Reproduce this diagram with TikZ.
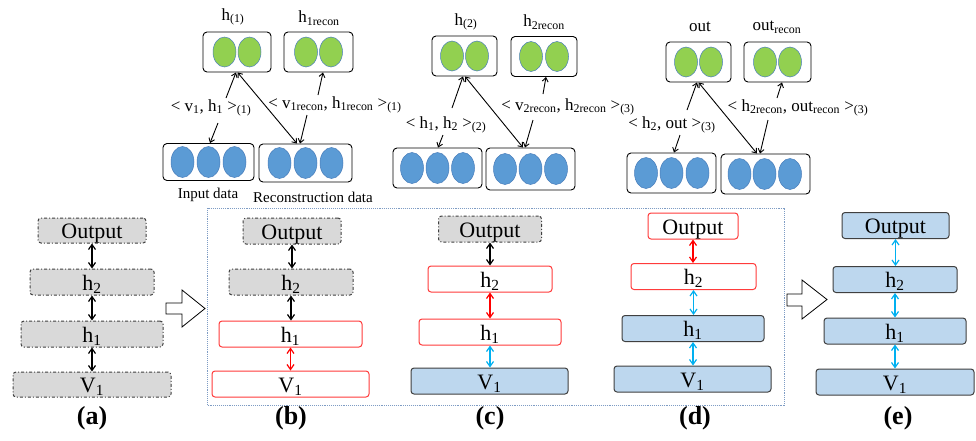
\documentclass[tikz,border=0pt]{standalone}
\usepackage{fontspec}
\setmainfont{LiberationSerif}[Extension=.ttf, UprightFont=*-Regular, BoldFont=*-Bold, ItalicFont=*-Italic, BoldItalicFont=*-BoldItalic]
\usetikzlibrary{arrows.meta,shapes.geometric}
\definecolor{grayfill}{HTML}{D9D9D9}
\definecolor{bluefill}{HTML}{BDD7EE}
\definecolor{greenfill}{HTML}{92D050}
\definecolor{bluedot}{HTML}{5B9BD5}
\definecolor{ellborder}{HTML}{4A7EBB}
\definecolor{cyanarrow}{HTML}{00B0F0}
\definecolor{redline}{HTML}{FF3B3B}
\definecolor{dotframe}{HTML}{7E9CC4}
\definecolor{darkline}{HTML}{404040}
\begin{document}
\begin{tikzpicture}[x=1pt,y=-1pt,
 layer/.style={rounded corners=3pt, minimum height=26pt, inner sep=0pt, text height=16pt, text depth=0pt, font=\fontsize{22}{22}\selectfont, line width=1pt},
 graybox/.style={layer, fill=grayfill, draw=darkline, dash dot},
 redbox/.style={layer, fill=white, draw=redline},
 bluebox/.style={layer, fill=bluefill, draw=darkline},
 link/.style={{Straight Barb[length=5pt,width=7pt]}-{Straight Barb[length=5pt,width=7pt]}, line width=1.2pt},
 blk/.style={link, draw=black},
 rd/.style={link, draw=red},
 cy/.style={link, draw=cyanarrow},
 capt/.style={font=\fontsize{26}{26}\selectfont\bfseries, inner sep=0pt},
 unit/.style={rounded corners=4pt, draw=black, line width=0.9pt, minimum height=40pt, inner sep=0pt},
 gdot/.style={ellipse, fill=greenfill, draw=ellborder, line width=0.5pt, minimum width=23pt, minimum height=30pt, inner sep=0pt, outer sep=0pt},
 bdot/.style={ellipse, fill=bluedot, draw=ellborder, line width=0.5pt, minimum width=23pt, minimum height=31pt, inner sep=0pt, outer sep=0pt},
 toplab/.style={font=\fontsize{17}{17}\selectfont, inner sep=0pt},
 datalab/.style={font=\fontsize{15}{15}\selectfont, inner sep=0pt},
 pair/.style={font=\fontsize{17}{17}\selectfont, inner sep=0pt},
 ptr/.style={-{Straight Barb[length=4pt,width=6pt]}, line width=0.9pt},
 dptr/.style={{Straight Barb[length=4pt,width=6pt]}-{Straight Barb[length=4pt,width=6pt]}, line width=0.9pt},
 hollow/.style={draw=black, fill=white, line width=0.8pt, line join=miter},
]
\useasboundingbox (0,0) rectangle (976,440);
\fill[white] (0,0) rectangle (976,440);

% ---------- top panel 1 ----------
\node[unit, minimum width=68pt] (P1h) at (237,52) {};
\node[unit, minimum width=69pt] (P1hr) at (318.5,52) {};
\node[unit, minimum width=91pt, minimum height=37pt] (P1in) at (208.5,162) {};
\node[unit, minimum width=93pt, minimum height=38pt] (P1rc) at (305.5,163) {};
\node[gdot] (P1h1) at ([xshift=-12.5pt]P1h.center) {};
\node[gdot] (P1h2) at ([xshift=12.5pt]P1h.center) {};
\node[gdot] (P1hr1) at ([xshift=-12.5pt]P1hr.center) {};
\node[gdot] (P1hr2) at ([xshift=12.5pt]P1hr.center) {};
\node[bdot] (P1in1) at ([xshift=-26pt]P1in.center) {};
\node[bdot] (P1in2) at (P1in.center) {};
\node[bdot] (P1in3) at ([xshift=26pt]P1in.center) {};
\node[bdot] (P1rc1) at ([xshift=-26pt]P1rc.center) {};
\node[bdot] (P1rc2) at (P1rc.center) {};
\node[bdot] (P1rc3) at ([xshift=26pt]P1rc.center) {};
\node[toplab] (P1hl) at (233,17) {h\textsubscript{(1)}};
\node[toplab] (P1hrl) at (319,18) {h\textsubscript{1recon}};
\node[datalab] (P1inl) at (208,195) {Input data};
\node[datalab] (P1rcl) at (313,197) {Reconstruction data};
\node[pair] (P1L) at (211,108) {< v\textsubscript{1}, h\textsubscript{1} >\textsubscript{(1)}};
\node[pair] (P1R) at (335,105) {< v\textsubscript{1recon}, h\textsubscript{1recon} >\textsubscript{(1)}};
\coordinate (P1La) at (226,98);
\coordinate (P1Lb) at (218,123);
\coordinate (P1Ra) at (318,95);
\coordinate (P1Rb) at (307,115);
\draw[ptr] (P1La) -- ([xshift=-1pt]P1h.south);
\draw[ptr] (P1Lb) -- ([xshift=1.5pt]P1in.north);
\draw[dptr] ([xshift=0.5pt]P1h.south) -- ([xshift=-8.5pt]P1rc.north);
\draw[ptr] (P1Ra) -- ([xshift=4.5pt]P1hr.south);
\draw[ptr] (P1Rb) -- ([xshift=-5.5pt]P1rc.north);

% ---------- top panel 2 ----------
\node[unit, minimum width=65pt] (P2h) at (464.5,56) {};
\node[unit, minimum width=66pt] (P2hr) at (544,56.5) {};
\node[unit, minimum width=89pt] (P2a) at (437.5,168) {};
\node[unit, minimum width=89pt, minimum height=42pt] (P2b) at (530.5,169) {};
\node[gdot] (P2h1) at ([xshift=-12.5pt]P2h.center) {};
\node[gdot] (P2h2) at ([xshift=12.5pt]P2h.center) {};
\node[gdot] (P2hr1) at ([xshift=-13pt]P2hr.center) {};
\node[gdot] (P2hr2) at ([xshift=13pt]P2hr.center) {};
\node[bdot] (P2a1) at ([xshift=-25.5pt]P2a.center) {};
\node[bdot] (P2a2) at (P2a.center) {};
\node[bdot] (P2a3) at ([xshift=25.5pt]P2a.center) {};
\node[bdot] (P2b1) at ([xshift=-25.5pt]P2b.center) {};
\node[bdot] (P2b2) at (P2b.center) {};
\node[bdot] (P2b3) at ([xshift=25.5pt]P2b.center) {};
\node[toplab] (P2hl) at (466,22) {h\textsubscript{(2)}};
\node[toplab] (P2hrl) at (544,22) {h\textsubscript{2recon}};
\node[pair] (P2L) at (446,125) {< h\textsubscript{1}, h\textsubscript{2} >\textsubscript{(2)}};
\node[pair] (P2R) at (568,107) {< v\textsubscript{2recon}, h\textsubscript{2recon} >\textsubscript{(3)}};
\coordinate (P2La) at (452,108);
\coordinate (P2Lb) at (443,135);
\coordinate (P2Ra) at (543,94);
\coordinate (P2Rb) at (533,120);
\draw[ptr] (P2La) -- ([xshift=-1.5pt]P2h.south);
\draw[ptr] (P2Lb) -- ([xshift=0.5pt]P2a.north);
\draw[dptr] ([xshift=0.5pt]P2h.south) -- ([xshift=-7.5pt]P2b.north);
\draw[ptr] (P2Ra) -- ([xshift=2pt]P2hr.south);
\draw[ptr] (P2Rb) -- ([xshift=-5.5pt]P2b.north);

% ---------- top panel 3 ----------
\node[unit, minimum width=65pt] (P3h) at (698.5,62) {};
\node[unit, minimum width=67pt] (P3hr) at (777.5,62) {};
\node[unit, minimum width=89pt] (P3a) at (671.5,173) {};
\node[unit, minimum width=89pt] (P3b) at (765.5,174) {};
\node[gdot] (P3h1) at ([xshift=-12.5pt]P3h.center) {};
\node[gdot] (P3h2) at ([xshift=12.5pt]P3h.center) {};
\node[gdot] (P3hr1) at ([xshift=-12.5pt]P3hr.center) {};
\node[gdot] (P3hr2) at ([xshift=12.5pt]P3hr.center) {};
\node[bdot] (P3a1) at ([xshift=-25.5pt]P3a.center) {};
\node[bdot] (P3a2) at (P3a.center) {};
\node[bdot] (P3a3) at ([xshift=26pt]P3a.center) {};
\node[bdot] (P3b1) at ([xshift=-26pt]P3b.center) {};
\node[bdot] (P3b2) at ([xshift=-1pt]P3b.center) {};
\node[bdot] (P3b3) at ([xshift=24.5pt]P3b.center) {};
\node[toplab] (P3hl) at (700,27) {out};
\node[toplab] (P3hrl) at (777,27) {out\textsubscript{recon}};
\node[pair] (P3L) at (672,125) {< h\textsubscript{2}, out >\textsubscript{(3)}};
\node[pair] (P3R) at (798,108) {< h\textsubscript{2recon}, out\textsubscript{recon} >\textsubscript{(3)}};
\coordinate (P3La) at (687,110);
\coordinate (P3Lb) at (680,135);
\coordinate (P3Ra) at (777,98);
\coordinate (P3Rb) at (768,120);
\draw[ptr] (P3La) -- ([xshift=-1.5pt]P3h.south);
\draw[ptr] (P3Lb) -- ([xshift=2.5pt]P3a.north);
\draw[dptr] ([xshift=0pt]P3h.south) -- ([xshift=-8.5pt]P3b.north);
\draw[ptr] (P3Ra) -- ([xshift=4.5pt]P3hr.south);
\draw[ptr] (P3Rb) -- ([xshift=-5.5pt]P3b.north);

% ---------- dotted frame ----------
\draw[dotframe, densely dotted, line width=0.9pt] (207,208) rectangle (784,405);

% ---------- hollow arrows ----------
\draw[hollow] (166,303) -- (182,303) -- (182,290) -- (205,308.5) -- (182,327) -- (182,314) -- (166,314) -- cycle;
\draw[hollow] (787,294) -- (802,294) -- (802,280) -- (827,299.5) -- (802,319) -- (802,306) -- (787,306) -- cycle;

% ---------- column (a) ----------
\node[graybox, minimum width=108pt, minimum height=25pt] (aO) at (92,230.5) {Output};
\node[graybox, minimum width=124pt] (aH2) at (92,282) {h\textsubscript{2}};
\node[graybox, minimum width=142pt] (aH1) at (92,334) {h\textsubscript{1}};
\node[graybox, minimum width=158pt, minimum height=25pt] (aV) at (92,384.5) {V\textsubscript{1}};
\draw[blk] (aO.south) -- (aO.south |- aH2.north);
\draw[blk] (aH2.south) -- (aH2.south |- aH1.north);
\draw[blk] (aH1.south) -- (aH1.south |- aV.north);
\node[capt] (capa) at (92,418) {(a)};

% ---------- column (b) ----------
\node[graybox, minimum width=98pt] (bO) at (292,231) {Output};
\node[graybox, minimum width=124pt] (bH2) at (291,282) {h\textsubscript{2}};
\node[redbox, minimum width=143pt] (bH1) at (290.5,334) {h\textsubscript{1}};
\node[redbox, minimum width=157pt] (bV) at (290.5,384) {V\textsubscript{1}};
\draw[blk] (bO.south) -- (bO.south |- bH2.north);
\draw[blk] (bH2.south) -- (bH2.south |- bH1.north);
\draw[rd] (bH1.south) -- (bH1.south |- bV.north);
\node[capt] (capb) at (291,418) {(b)};

% ---------- column (c) ----------
\node[graybox, minimum width=103pt] (cO) at (490,229) {Output};
\node[redbox, minimum width=124pt] (cH2) at (490,279) {h\textsubscript{2}};
\node[redbox, minimum width=142pt] (cH1) at (490,332) {h\textsubscript{1}};
\node[bluebox, minimum width=157pt] (cV) at (489.5,381) {V\textsubscript{1}};
\draw[blk] (cO.south) -- (cO.south |- cH2.north);
\draw[rd] (cH2.south) -- (cH2.south |- cH1.north);
\draw[cy] (cH1.south) -- (cH1.south |- cV.north);
\node[capt] (capc) at (490,418) {(c)};

% ---------- column (d) ----------
\node[redbox, minimum width=90pt] (dO) at (693,226) {Output};
\node[redbox, minimum width=125pt] (dH2) at (693.5,276.5) {h\textsubscript{2}};
\node[bluebox, minimum width=142pt] (dH1) at (693,328.5) {h\textsubscript{1}};
\node[bluebox, minimum width=157pt] (dV) at (692.5,379) {V\textsubscript{1}};
\draw[rd] (dO.south) -- (dO.south |- dH2.north);
\draw[cy] (dH2.south) -- (dH2.south |- dH1.north);
\draw[cy] (dH1.south) -- (dH1.south |- dV.north);
\node[capt] (capd) at (695,418) {(d)};

% ---------- column (e) ----------
\node[bluebox, minimum width=107pt] (eO) at (895.5,225.5) {Output};
\node[bluebox, minimum width=124pt] (eH2) at (895,279.5) {h\textsubscript{2}};
\node[bluebox, minimum width=142pt] (eH1) at (895,331) {h\textsubscript{1}};
\node[bluebox, minimum width=158pt] (eV) at (895,382) {V\textsubscript{1}};
\draw[cy] (eO.south) -- (eO.south |- eH2.north);
\draw[cy] (eH2.south) -- (eH2.south |- eH1.north);
\draw[cy] (eH1.south) -- (eH1.south |- eV.north);
\node[capt] (cape) at (898,418) {(e)};
\end{tikzpicture}
\end{document}
